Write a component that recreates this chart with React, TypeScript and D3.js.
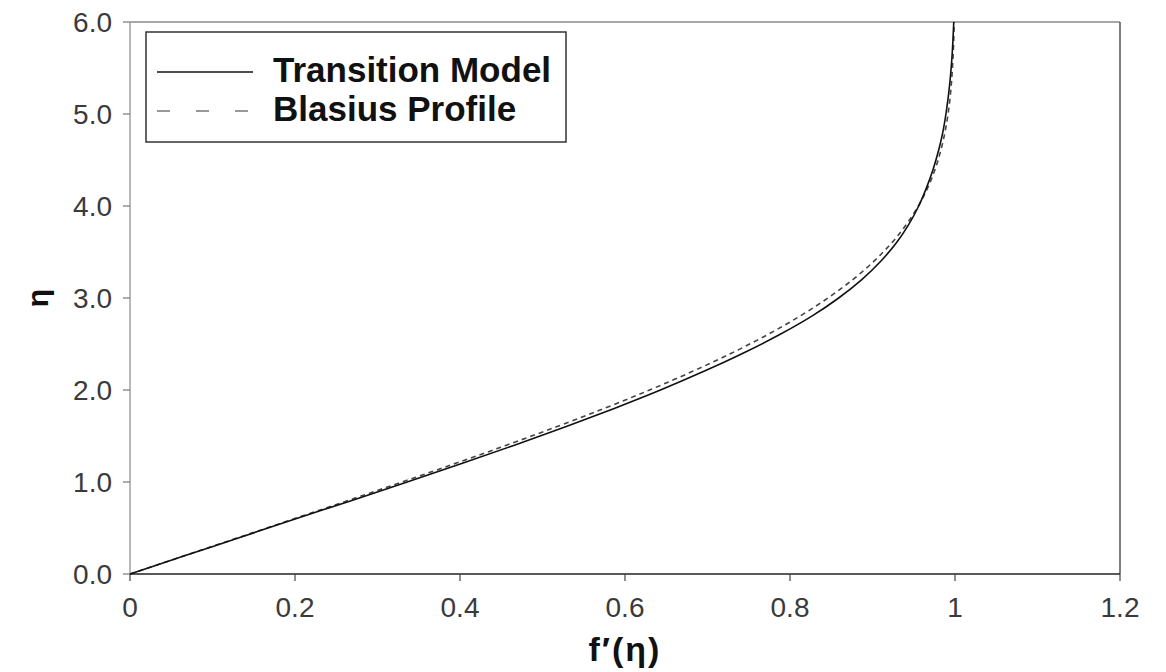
import React, { useEffect } from "react";
import * as d3 from "d3";

// η values (y axis)
const etaValues = [
  0, 0.2, 0.4, 0.6, 0.8, 1.0, 1.2, 1.4, 1.6, 1.8, 2.0, 2.2, 2.4, 2.6, 2.8, 3.0,
  3.2, 3.4, 3.6, 3.8, 4.0, 4.2, 4.4, 4.6, 4.8, 5.0, 5.2, 5.4, 5.6, 5.8, 6.0,
];

// f'(η) for the transition model (solid)
const transitionValues = [
  0, 0.067, 0.134, 0.201, 0.269, 0.336, 0.402, 0.466, 0.528, 0.587, 0.643,
  0.695, 0.743, 0.787, 0.826, 0.859, 0.887, 0.91, 0.929, 0.944, 0.956, 0.9655,
  0.9735, 0.98, 0.9852, 0.989, 0.992, 0.9944, 0.9962, 0.9975, 0.9985,
];

// f'(η) for the Blasius profile (dashed)
const blasiusValues = [
  0, 0.0664, 0.1328, 0.1989, 0.2647, 0.3298, 0.3938, 0.4563, 0.5168, 0.5748,
  0.6298, 0.6813, 0.729, 0.7725, 0.8115, 0.846, 0.8761, 0.9018, 0.9233,
  0.9411, 0.9555, 0.967, 0.9759, 0.9827, 0.9878, 0.9916, 0.9943, 0.9962,
  0.9975, 0.9984, 0.999,
];

const xTicks = [0, 0.2, 0.4, 0.6, 0.8, 1, 1.2];
const yTicks = [0, 1, 2, 3, 4, 5, 6];

const legendItems = [
  { label: "Transition Model", dash: null },
  { label: "Blasius Profile", dash: "13,26" },
];

const W = 1166;
const H = 672;
const margin = { left: 130, right: 46, top: 22, bottom: 98 };

export default function App() {
  useEffect(() => {
    document.body.style.margin = "0";
  }, []);

  const x = d3.scaleLinear().domain([0, 1.2]).range([margin.left, W - margin.right]);
  const y = d3.scaleLinear().domain([0, 6]).range([H - margin.bottom, margin.top]);

  const line = d3
    .line<number>()
    .x((d) => x(d))
    .y((_, i) => y(etaValues[i]))
    .curve(d3.curveMonotoneY);

  const font = "'Liberation Sans', Arial, sans-serif";
  const x0 = x(0);
  const x1 = x(1.2);
  const y0 = y(0);
  const y1 = y(6);

  return (
    <svg width={W} height={H} style={{ display: "block", background: "#fff" }}>
      {/* frame */}
      <line x1={x0} x2={x1} y1={y1} y2={y1} stroke="#8a8a8a" strokeWidth={1.5} />
      <line x1={x1} x2={x1} y1={y1} y2={y0} stroke="#555" strokeWidth={1.5} />
      <line x1={x0} x2={x0} y1={y1} y2={y0} stroke="#a0a0a0" strokeWidth={1.5} />
      <line x1={x0} x2={x1} y1={y0} y2={y0} stroke="#222" strokeWidth={1.5} />

      {/* y ticks */}
      {yTicks.map((t) => (
        <g key={"y" + t}>
          <line x1={x0 - 7} x2={x0} y1={y(t)} y2={y(t)} stroke="#777" strokeWidth={1.2} />
          <text
            x={x0 - 18}
            y={y(t)}
            dy="0.36em"
            textAnchor="end"
            fontFamily={font}
            fontSize={28}
            fill="#3a3a3a"
          >
            {t.toFixed(1)}
          </text>
        </g>
      ))}

      {/* x ticks */}
      {xTicks.map((t) => (
        <g key={"x" + t}>
          <line x1={x(t)} x2={x(t)} y1={y0} y2={y0 + 7} stroke="#444" strokeWidth={1.2} />
          <text
            x={x(t)}
            y={617}
            textAnchor="middle"
            fontFamily={font}
            fontSize={28}
            fill="#3a3a3a"
          >
            {String(t)}
          </text>
        </g>
      ))}

      {/* curves */}
      <path
        d={line(blasiusValues) || ""}
        fill="none"
        stroke="#444"
        strokeWidth={1.6}
        strokeDasharray="5,4"
      />
      <path d={line(transitionValues) || ""} fill="none" stroke="#111" strokeWidth={1.6} />

      {/* axis titles */}
      <text
        transform={`translate(37, ${y(3)}) rotate(-90)`}
        textAnchor="middle"
        dy="0.35em"
        fontFamily={font}
        fontSize={30}
        fontWeight="bold"
        fill="#111"
      >
        η
      </text>
      <text
        x={(x0 + x1) / 2}
        y={661}
        textAnchor="middle"
        fontFamily={font}
        fontSize={34}
        fontWeight="bold"
        letterSpacing={2}
        fill="#111"
      >
        f′(η)
      </text>

      {/* legend */}
      <rect x={146} y={32} width={420} height={110} fill="#fff" stroke="#333" strokeWidth={1.5} />
      {legendItems.map((item, i) => {
        const ly = 72 + i * 39;
        return (
          <g key={item.label}>
            <line
              x1={157}
              x2={253}
              y1={ly}
              y2={ly}
              stroke={item.dash ? "#777" : "#111"}
              strokeWidth={1.5}
              strokeDasharray={item.dash || undefined}
            />
            <text
              x={273}
              y={ly + 10}
              fontFamily={font}
              fontSize={35}
              fontWeight="bold"
              fill="#111"
            >
              {item.label}
            </text>
          </g>
        );
      })}
    </svg>
  );
}
